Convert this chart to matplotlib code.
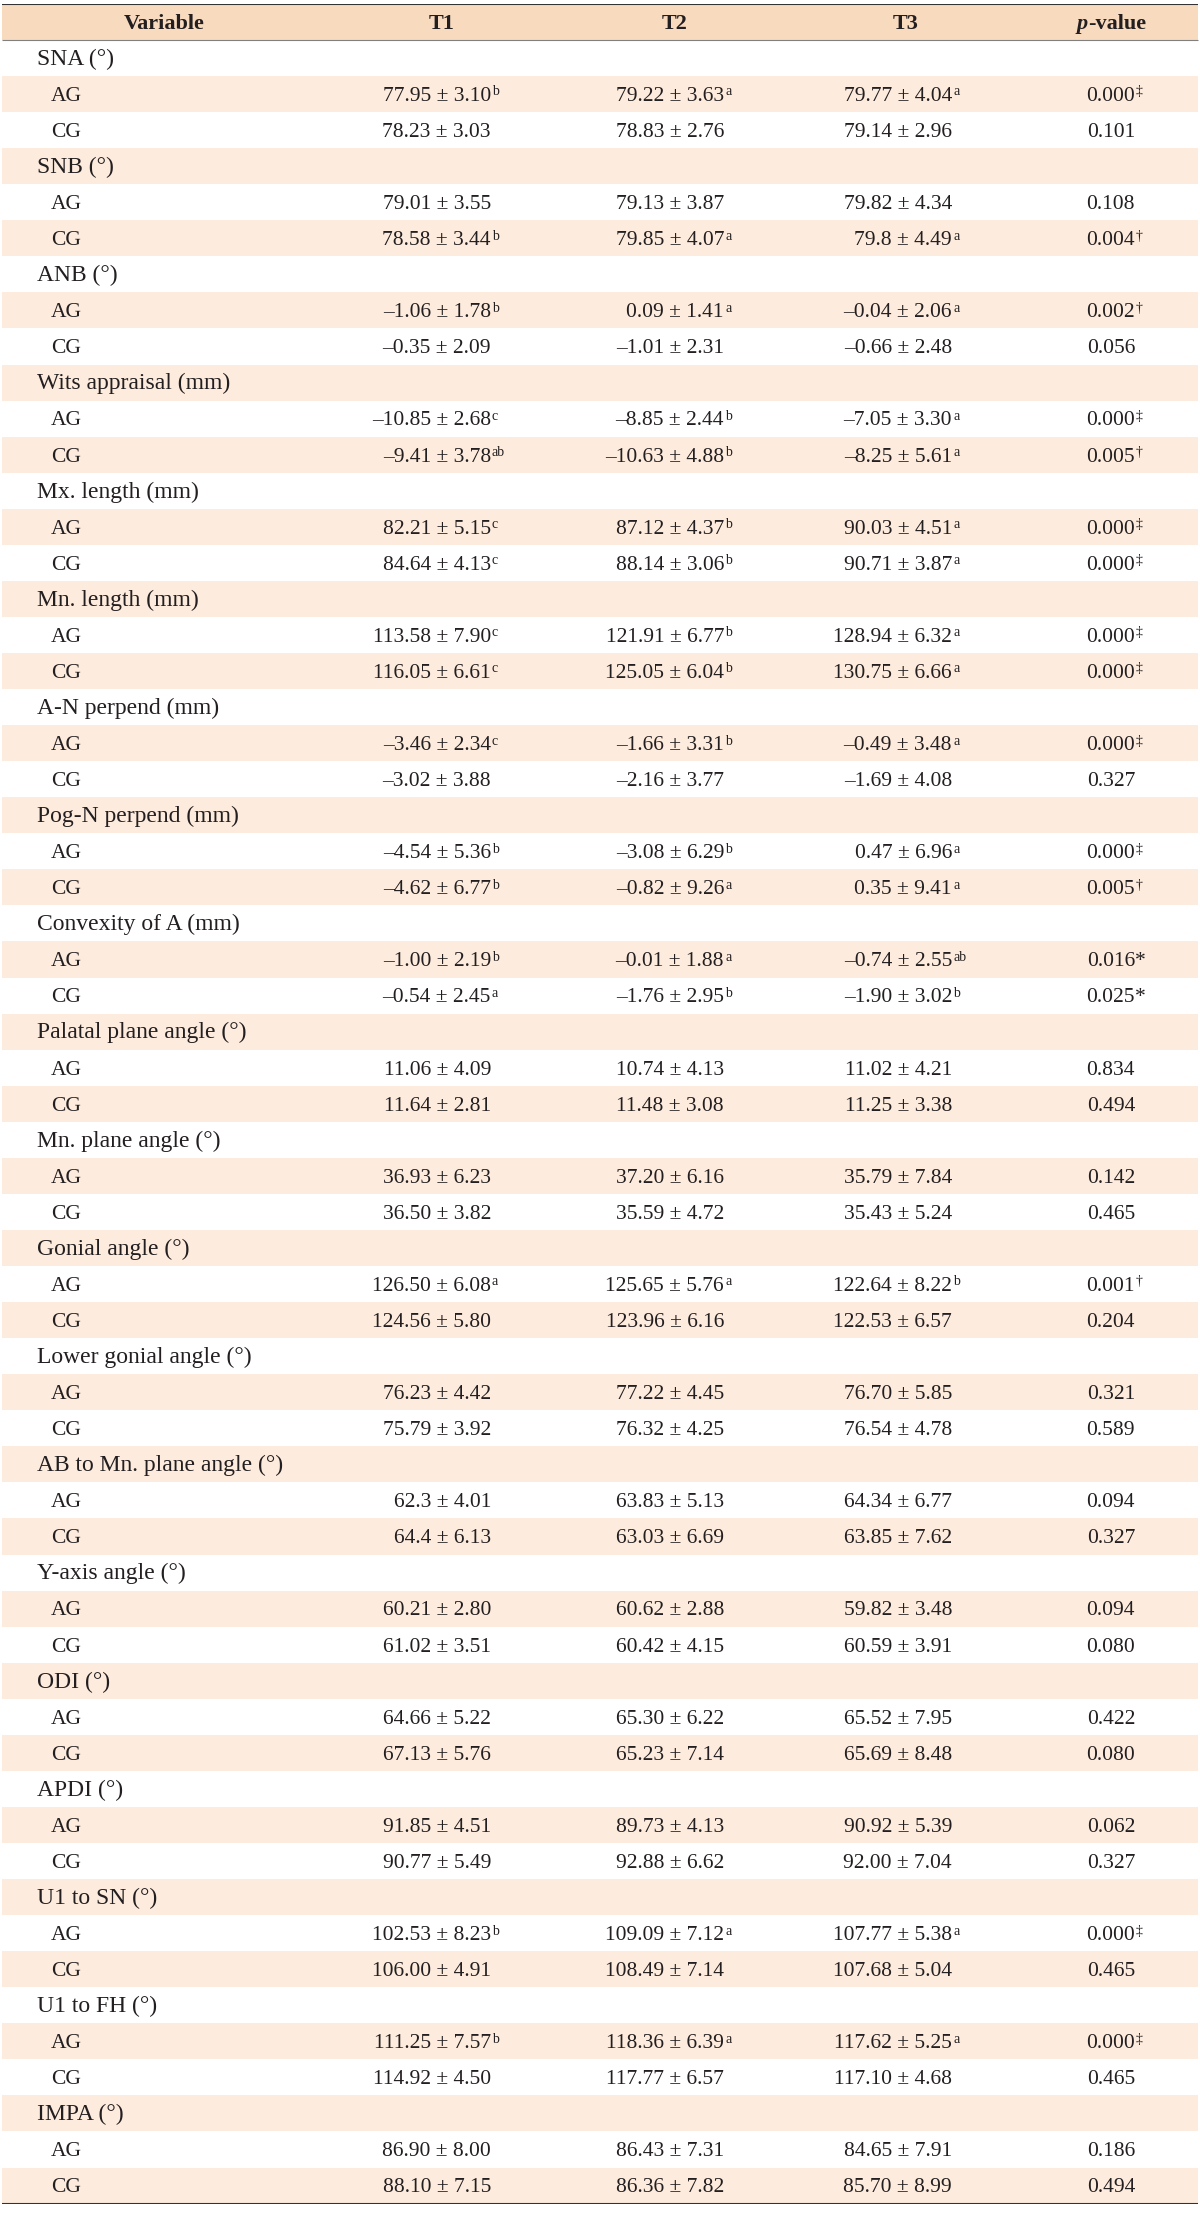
import matplotlib.pyplot as plt

plt.rcParams['font.family'] = ['Liberation Serif', 'DejaVu Serif']

# Datos de la tabla ("^" separa el superíndice)
variables = ['SNA (°)', 'SNB (°)', 'ANB (°)', 'Wits appraisal (mm)', 'Mx. length (mm)',
             'Mn. length (mm)', 'A-N perpend (mm)', 'Pog-N perpend (mm)', 'Convexity of A (mm)',
             'Palatal plane angle (°)', 'Mn. plane angle (°)', 'Gonial angle (°)',
             'Lower gonial angle (°)', 'AB to Mn. plane angle (°)', 'Y-axis angle (°)',
             'ODI (°)', 'APDI (°)', 'U1 to SN (°)', 'U1 to FH (°)', 'IMPA (°)']

ag_t1 = ['77.95 ± 3.10^b', '79.01 ± 3.55', '–1.06 ± 1.78^b', '–10.85 ± 2.68^c', '82.21 ± 5.15^c',
         '113.58 ± 7.90^c', '–3.46 ± 2.34^c', '–4.54 ± 5.36^b', '–1.00 ± 2.19^b', '11.06 ± 4.09',
         '36.93 ± 6.23', '126.50 ± 6.08^a', '76.23 ± 4.42', '62.3 ± 4.01', '60.21 ± 2.80',
         '64.66 ± 5.22', '91.85 ± 4.51', '102.53 ± 8.23^b', '111.25 ± 7.57^b', '86.90 ± 8.00']
ag_t2 = ['79.22 ± 3.63^a', '79.13 ± 3.87', '0.09 ± 1.41^a', '–8.85 ± 2.44^b', '87.12 ± 4.37^b',
         '121.91 ± 6.77^b', '–1.66 ± 3.31^b', '–3.08 ± 6.29^b', '–0.01 ± 1.88^a', '10.74 ± 4.13',
         '37.20 ± 6.16', '125.65 ± 5.76^a', '77.22 ± 4.45', '63.83 ± 5.13', '60.62 ± 2.88',
         '65.30 ± 6.22', '89.73 ± 4.13', '109.09 ± 7.12^a', '118.36 ± 6.39^a', '86.43 ± 7.31']
ag_t3 = ['79.77 ± 4.04^a', '79.82 ± 4.34', '–0.04 ± 2.06^a', '–7.05 ± 3.30^a', '90.03 ± 4.51^a',
         '128.94 ± 6.32^a', '–0.49 ± 3.48^a', '0.47 ± 6.96^a', '–0.74 ± 2.55^ab', '11.02 ± 4.21',
         '35.79 ± 7.84', '122.64 ± 8.22^b', '76.70 ± 5.85', '64.34 ± 6.77', '59.82 ± 3.48',
         '65.52 ± 7.95', '90.92 ± 5.39', '107.77 ± 5.38^a', '117.62 ± 5.25^a', '84.65 ± 7.91']
ag_p = ['0.000^‡', '0.108', '0.002^†', '0.000^‡', '0.000^‡', '0.000^‡', '0.000^‡', '0.000^‡',
        '0.016^*', '0.834', '0.142', '0.001^†', '0.321', '0.094', '0.094', '0.422', '0.062',
        '0.000^‡', '0.000^‡', '0.186']

cg_t1 = ['78.23 ± 3.03', '78.58 ± 3.44^b', '–0.35 ± 2.09', '–9.41 ± 3.78^ab', '84.64 ± 4.13^c',
         '116.05 ± 6.61^c', '–3.02 ± 3.88', '–4.62 ± 6.77^b', '–0.54 ± 2.45^a', '11.64 ± 2.81',
         '36.50 ± 3.82', '124.56 ± 5.80', '75.79 ± 3.92', '64.4 ± 6.13', '61.02 ± 3.51',
         '67.13 ± 5.76', '90.77 ± 5.49', '106.00 ± 4.91', '114.92 ± 4.50', '88.10 ± 7.15']
cg_t2 = ['78.83 ± 2.76', '79.85 ± 4.07^a', '–1.01 ± 2.31', '–10.63 ± 4.88^b', '88.14 ± 3.06^b',
         '125.05 ± 6.04^b', '–2.16 ± 3.77', '–0.82 ± 9.26^a', '–1.76 ± 2.95^b', '11.48 ± 3.08',
         '35.59 ± 4.72', '123.96 ± 6.16', '76.32 ± 4.25', '63.03 ± 6.69', '60.42 ± 4.15',
         '65.23 ± 7.14', '92.88 ± 6.62', '108.49 ± 7.14', '117.77 ± 6.57', '86.36 ± 7.82']
cg_t3 = ['79.14 ± 2.96', '79.8 ± 4.49^a', '–0.66 ± 2.48', '–8.25 ± 5.61^a', '90.71 ± 3.87^a',
         '130.75 ± 6.66^a', '–1.69 ± 4.08', '0.35 ± 9.41^a', '–1.90 ± 3.02^b', '11.25 ± 3.38',
         '35.43 ± 5.24', '122.53 ± 6.57', '76.54 ± 4.78', '63.85 ± 7.62', '60.59 ± 3.91',
         '65.69 ± 8.48', '92.00 ± 7.04', '107.68 ± 5.04', '117.10 ± 4.68', '85.70 ± 8.99']
cg_p = ['0.101', '0.004^†', '0.056', '0.005^†', '0.000^‡', '0.000^‡', '0.327', '0.005^†',
        '0.025^*', '0.494', '0.465', '0.204', '0.589', '0.327', '0.080', '0.080', '0.327',
        '0.465', '0.465', '0.494']

groups = [('AG', ag_t1, ag_t2, ag_t3, ag_p), ('CG', cg_t1, cg_t2, cg_t3, cg_p)]

color_texto = '#231f20'
color_cabecera = '#f8dabf'
color_franja = '#fdebdd'

n_filas = len(variables) * 3

fig = plt.figure(figsize=(12, 22.25), dpi=100)
ax = fig.add_axes([0, 0.00962, 1, 0.98863])
ax.set_xlim(0, 1200)
ax.set_ylim(n_filas - 0.5, -1.5)
ax.axis('off')

# Franjas alternas y cabecera
franjas = [r for r in range(n_filas) if r % 2 == 1]
ax.barh(franjas, 1196, left=2, height=1, color=color_franja, linewidth=0)
ax.barh([-1], 1196, left=2, height=1, color=color_cabecera, linewidth=0)
ax.hlines([-1.5, n_filas - 0.5], 2, 1198, color='#333333', lw=1.5)
ax.hlines([-0.5], 2, 1198, color='#808080', lw=0.8)

fs = 15.5        # números
fs_lab = 17      # etiquetas
base_off = 0.19  # desplazamiento de la línea base (en filas)
sup_off = 0.04


def celda(x, fila, texto):
    base, _, sup = texto.partition('^')
    ax.text(x, fila + base_off, base, ha='right', va='baseline', fontsize=fs, color=color_texto)
    if sup:
        if sup == '*':
            ax.text(x, fila + base_off, sup, ha='left', va='baseline', fontsize=fs, color=color_texto)
        else:
            ax.text(x + 1, fila + sup_off, sup, ha='left', va='baseline', fontsize=10, color=color_texto)


# Cabecera
hy = -1 + base_off
kw = dict(va='baseline', fontsize=16, fontweight='bold', color=color_texto)
ax.text(164, hy, 'Variable', ha='center', **kw)
ax.text(442, hy, 'T1', ha='center', **kw)
ax.text(675, hy, 'T2', ha='center', **kw)
ax.text(906, hy, 'T3', ha='center', **kw)
ax.text(1088, hy, 'p', ha='right', style='italic', **kw)
ax.text(1088, hy, '-value', ha='left', **kw)

x_cols = [491, 724, 952, 1135]

for i, var in enumerate(variables):
    fila = 3 * i
    ax.text(37, fila + base_off, var, ha='left', va='baseline', fontsize=fs_lab, color=color_texto)
    for j, (nombre, t1, t2, t3, p) in enumerate(groups):
        f = fila + 1 + j
        ax.text(51, f + base_off, nombre, ha='left', va='baseline', fontsize=fs, color=color_texto)
        for x, col in zip(x_cols, (t1, t2, t3, p)):
            celda(x, f, col[i])

plt.savefig('out.png', dpi=100)
